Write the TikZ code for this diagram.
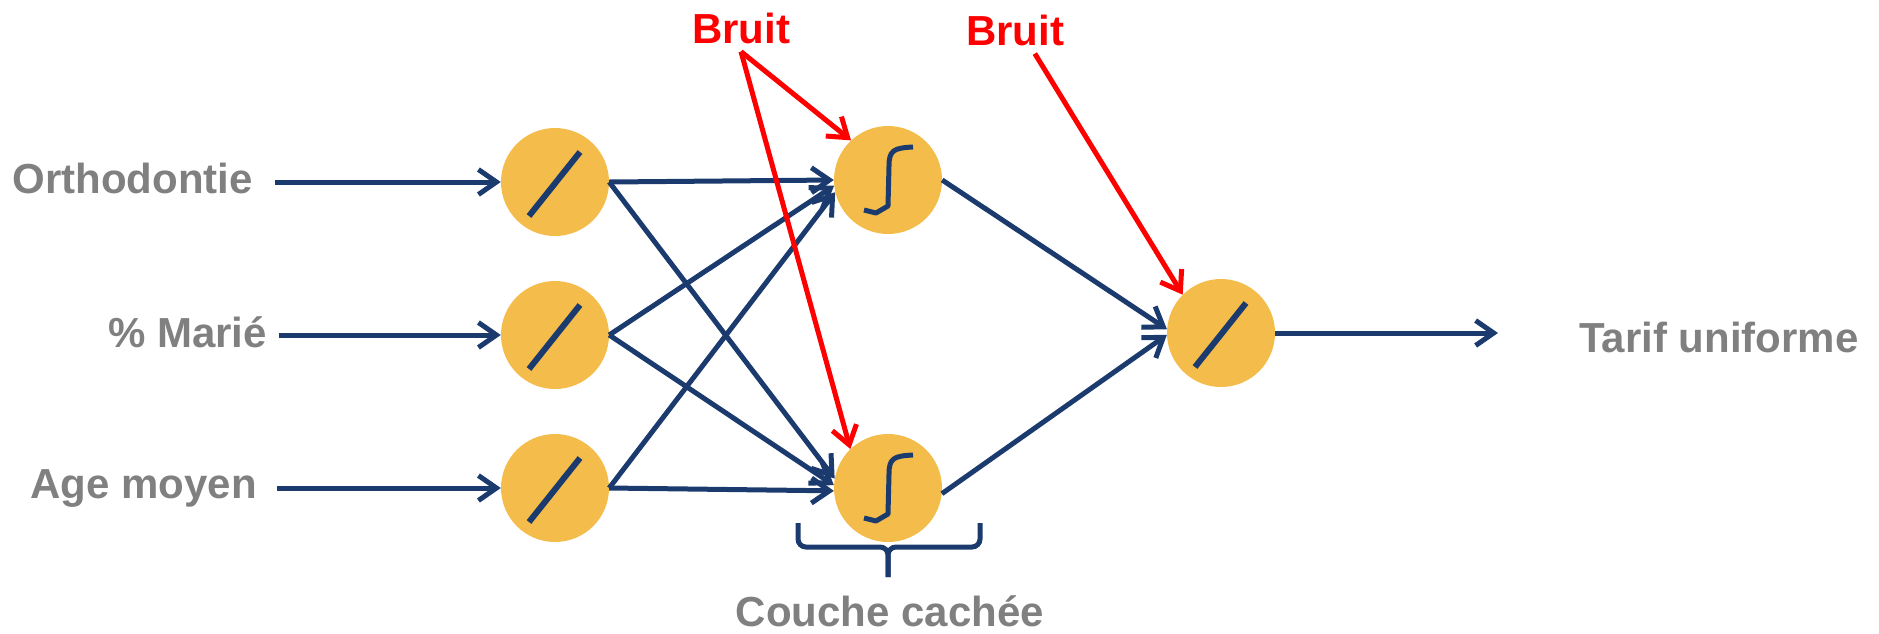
\documentclass[tikz,border=0pt]{standalone}
\usepackage{fontspec}
\setmainfont{Liberation Sans}
\usetikzlibrary{arrows.meta}
\definecolor{navy}{HTML}{1B3B6F}
\definecolor{gold}{HTML}{F4BC4A}
\definecolor{greytxt}{HTML}{808080}
\begin{document}
\begin{tikzpicture}[x=1pt, y=-1pt, >={Straight Barb[length=18pt,width=25pt]},
    neuron/.style={circle, fill=gold, minimum size=108pt, inner sep=0pt},
    lien/.style={->, draw=navy, line width=5pt},
    bruit/.style={->, draw=red, line width=5pt},
    glyphe/.style={navy, line width=6pt, line join=round},
    etiq/.style={text=greytxt, font=\fontsize{42}{48}\selectfont\bfseries, inner sep=0pt}]
\useasboundingbox (0,0) rectangle (1879,633);
% neurones
\node[neuron] (in1) at (555,182) {};
\node[neuron] (in2) at (555,335) {};
\node[neuron] (in3) at (555,488) {};
\node[neuron] (hid1) at (888,180) {};
\node[neuron] (hid2) at (888,488) {};
\node[neuron] (out) at (1221,333) {};
% fonctions d'activation
\foreach \n in {in1,in2,in3,out}{\draw[glyphe] ([shift={(-26,34)}]\n.center) -- ([shift={(25,-30)}]\n.center);}
\foreach \n in {hid1,hid2}{
    \begin{scope}[shift={(\n)}]
        \draw[glyphe, line width=5pt] (-24,30) -- (-12,33) -- (0,26) -- (1,-14) .. controls (1,-30) and (6,-32) .. (25,-33);
    \end{scope}
}
% entrees et sortie
\node[etiq, anchor=base east] (l1) at (253,193) {Orthodontie};
\node[etiq, anchor=base east] (l2) at (267,347) {\% Marié};
\node[etiq, anchor=base east] (l3) at (257,498) {Age moyen};
\node[etiq, anchor=base west] (l4) at (1579,352) {Tarif uniforme};
\coordinate (e1) at (275,182);
\coordinate (e2) at (279,335);
\coordinate (e3) at (277,488);
\coordinate (s) at (1498,333);
\foreach \i in {1,2,3}{\draw[lien] (e\i) -- (in\i.west);}
\draw[lien] (out.east) -- (s);
% connexions
\foreach \i/\a/\b in {1/180/170, 2/186/177, 3/193/183}{
    \draw[lien] (in\i.east) -- (hid1.\a);
    \draw[lien] (in\i.east) -- (hid2.\b);
}
\draw[lien] (hid1.east) -- (out.176);
\draw[lien] (hid2.-6) -- (out.182);
% bruit
\node[text=red, font=\fontsize{42}{48}\selectfont\bfseries, inner sep=8pt, anchor=base] (br1) at (741,43) {Bruit};
\node[text=red, font=\fontsize{42}{48}\selectfont\bfseries, inner sep=8pt, anchor=base] (br2) at (1015,45) {Bruit};
\draw[bruit] (br1.south) -- (hid1.133);
\draw[bruit] (br1.south) -- (hid2.134);
\draw[bruit] (br2.-50) -- (out.135);
% couche cachee
\draw[navy, line width=5pt, rounded corners=8pt] (798,523) |- (888,547) -- (888,577);
\draw[navy, line width=5pt, rounded corners=8pt] (980,523) |- (888,547) -- (888,577);
\node[etiq, anchor=base] (l5) at (890,626) {Couche cachée};
\end{tikzpicture}
\end{document}
